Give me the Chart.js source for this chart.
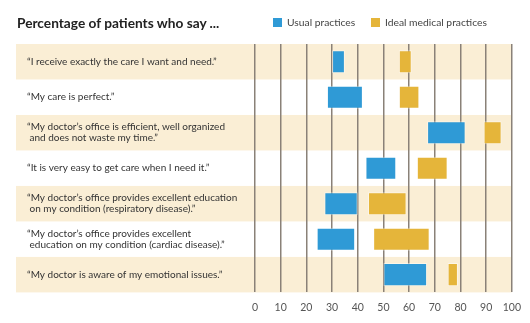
<!DOCTYPE html>
<html>
<head>
<meta charset="utf-8">
<script src="https://cdn.jsdelivr.net/npm/chart.js@4"></script>
<style>
  html, body { margin: 0; padding: 0; background: #fff; }
  #wrap { position: relative; width: 530px; height: 323px; }
  #title { position: absolute; left: 17px; top: 14px; font: bold 13.7px Lato, sans-serif; color: #222; white-space: nowrap; }
  .leg { position: absolute; top: 16px; font: 10.3px Lato, sans-serif; color: #444; white-space: nowrap; }
  .sw { display: inline-block; width: 9px; height: 9px; margin-right: 5px; vertical-align: -1px; }
</style>
</head>
<body>
<div id="wrap">
  <canvas id="c" width="530" height="323"></canvas>
  <div id="title">Percentage of patients who say ...</div>
  <div class="leg" style="left:273px"><span class="sw" style="background:#2F9AD6"></span>Usual practices</div>
  <div class="leg" style="left:371px"><span class="sw" style="background:#E5B53A"></span>Ideal medical practices</div>
</div>
<script>
const categories = [
  ['\u201CI receive exactly the care I want and need.\u201D'],
  ['\u201CMy care is perfect.\u201D'],
  ['\u201CMy doctor\u2019s office is efficient, well organized', ' and does not waste my time.\u201D'],
  ['\u201CIt is very easy to get care when I need it.\u201D'],
  ['\u201CMy doctor\u2019s office provides excellent education', ' on my condition (respiratory disease).\u201D'],
  ['\u201CMy doctor\u2019s office provides excellent', ' education on my condition (cardiac disease).\u201D'],
  ['\u201CMy doctor is aware of my emotional issues.\u201D']
];
const usualRanges = [[30,35],[28,42],[67,82],[43,55],[27,40],[24,39],[50,67]];
const idealRanges = [[56,61],[56,64],[89,96],[63,75],[44,59],[46,68],[75,79]];
const xTicks = [0,10,20,30,40,50,60,70,80,90,100];

const bandPlugin = {
  id: 'bands',
  beforeDraw(chart) {
    const {ctx, scales: {y}, chartArea} = chart;
    ctx.save();
    const h = chartArea.height / categories.length;
    categories.forEach((c, i) => {
      if (i % 2 === 0) {
        const yc = y.getPixelForValue(i);
        ctx.fillStyle = '#FAEED5';
        ctx.fillRect(16, yc - h/2, chartArea.right - 16, h);
      }
    });
    ctx.restore();
  }
};

new Chart(document.getElementById('c'), {
  type: 'bar',
  data: {
    labels: categories,
    datasets: [
      { label: 'Usual practices', data: usualRanges, backgroundColor: '#2F9AD6', borderColor: 'rgba(255,255,255,0.45)', borderWidth: 1, borderSkipped: false, grouped: false },
      { label: 'Ideal medical practices', data: idealRanges, backgroundColor: '#E5B53A', borderColor: 'rgba(255,255,255,0.45)', borderWidth: 1, borderSkipped: false, grouped: false }
    ]
  },
  options: {
    indexAxis: 'y',
    responsive: false,
    animation: false,
    layout: { padding: { left: 27, top: 44, right: 18, bottom: 0 } },
    datasets: { bar: { categoryPercentage: 1, barPercentage: 0.65 } },
    plugins: { legend: { display: false }, title: { display: false }, tooltip: { enabled: false } },
    scales: {
      x: {
        min: 0, max: 100,
        afterBuildTicks(scale) { scale.ticks = xTicks.map(v => ({value: v})); },
        grid: { color: '#8A8178', lineWidth: 1.5, drawTicks: false },
        border: { display: false },
        ticks: { padding: 9, color: '#555', font: { family: 'Lato', size: 10.5 } }
      },
      y: {
        afterFit(scale) { scale.width = 228; },
        grid: { display: false },
        border: { display: false },
        ticks: { crossAlign: 'far', color: '#333', font: { family: 'Lato', size: 10, lineHeight: 1.1 } }
      }
    }
  },
  plugins: [bandPlugin]
});
</script>
</body>
</html>
